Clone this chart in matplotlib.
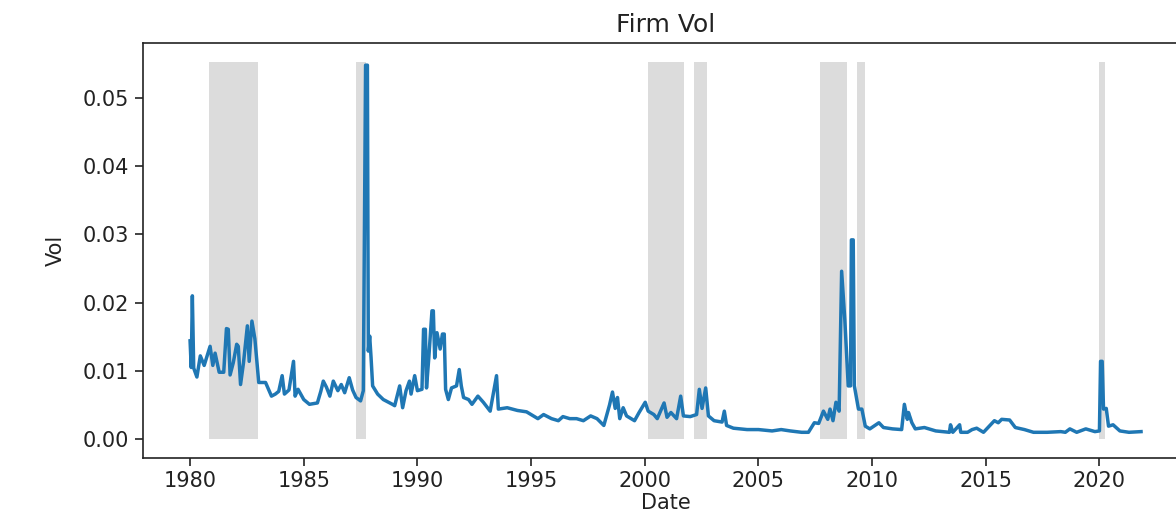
import matplotlib
matplotlib.use("Agg")
import matplotlib.pyplot as plt
from matplotlib.ticker import MultipleLocator, FormatStrFormatter

# Firm-level volatility (decimal year, value)
dates = [
    1980.00, 1980.05, 1980.10, 1980.16, 1980.30, 1980.45, 1980.62, 1980.88, 1981.00, 1981.10,
    1981.28, 1981.48, 1981.60, 1981.68, 1981.76, 1981.90, 1982.05, 1982.12, 1982.22, 1982.35,
    1982.52, 1982.60, 1982.72, 1982.85, 1983.02, 1983.32, 1983.50, 1983.58, 1983.75, 1983.90,
    1984.05, 1984.15, 1984.35, 1984.55, 1984.62, 1984.75, 1985.00, 1985.25, 1985.60, 1985.75,
    1985.86, 1986.00, 1986.15, 1986.30, 1986.50, 1986.65, 1986.80, 1987.00, 1987.15, 1987.30,
    1987.50, 1987.62, 1987.72, 1987.80, 1987.84, 1987.90, 1987.96, 1988.03, 1988.25, 1988.50,
    1988.90, 1989.00, 1989.22, 1989.35, 1989.50, 1989.65, 1989.72, 1989.88, 1990.00, 1990.20,
    1990.27, 1990.35, 1990.40, 1990.50, 1990.64, 1990.70, 1990.76, 1990.86, 1991.00, 1991.10,
    1991.18, 1991.24, 1991.36, 1991.50, 1991.72, 1991.84, 1991.93, 1992.03, 1992.25, 1992.40,
    1992.66, 1992.90, 1993.20, 1993.48, 1993.56, 1993.95, 1994.40, 1994.80, 1995.10, 1995.30,
    1995.55, 1995.90, 1996.20, 1996.40, 1996.70, 1997.00, 1997.30, 1997.62, 1997.90, 1998.20,
    1998.45, 1998.58, 1998.70, 1998.80, 1998.90, 1999.05, 1999.20, 1999.55, 1999.75, 2000.02,
    2000.15, 2000.40, 2000.55, 2000.85, 2000.98, 2001.15, 2001.40, 2001.58, 2001.70, 2002.00,
    2002.28, 2002.40, 2002.52, 2002.68, 2002.80, 2003.05, 2003.40, 2003.50, 2003.60, 2003.90,
    2004.50, 2005.00, 2005.60, 2006.00, 2006.40, 2006.90, 2007.20, 2007.46, 2007.65, 2007.86,
    2008.05, 2008.15, 2008.28, 2008.41, 2008.55, 2008.66, 2008.80, 2008.95, 2009.05, 2009.09,
    2009.17, 2009.22, 2009.40, 2009.55, 2009.70, 2009.90, 2010.30, 2010.50, 2010.90, 2011.30,
    2011.42, 2011.55, 2011.60, 2011.75, 2011.90, 2012.30, 2012.80, 2013.40, 2013.45, 2013.55,
    2013.85, 2013.90, 2014.20, 2014.40, 2014.60, 2014.90, 2015.38, 2015.55, 2015.70, 2016.05,
    2016.30, 2016.70, 2017.10, 2017.70, 2018.30, 2018.50, 2018.70, 2019.00, 2019.40, 2019.80,
    2020.00, 2020.05, 2020.12, 2020.18, 2020.30, 2020.40, 2020.60, 2020.90, 2021.30, 2021.83,
]
vol = [
    0.0144, 0.0105, 0.0210, 0.0104, 0.0091, 0.0122, 0.0108, 0.0136, 0.0108, 0.0126,
    0.0098, 0.0098, 0.0162, 0.0161, 0.0094, 0.0112, 0.0139, 0.0136, 0.0080, 0.0112,
    0.0166, 0.0114, 0.0173, 0.0147, 0.0083, 0.0083, 0.0069, 0.0063, 0.0066, 0.0070,
    0.0093, 0.0066, 0.0072, 0.0114, 0.0063, 0.0073, 0.0058, 0.0051, 0.0053, 0.0070,
    0.0085, 0.0076, 0.0063, 0.0085, 0.0071, 0.0080, 0.0068, 0.0090, 0.0072, 0.0061,
    0.0056, 0.0071, 0.0548, 0.0548, 0.0129, 0.0151, 0.0120, 0.0078, 0.0066, 0.0058,
    0.0051, 0.0049, 0.0078, 0.0046, 0.0071, 0.0085, 0.0066, 0.0093, 0.0071, 0.0073,
    0.0161, 0.0161, 0.0075, 0.0119, 0.0188, 0.0188, 0.0119, 0.0156, 0.0132, 0.0154,
    0.0154, 0.0073, 0.0058, 0.0075, 0.0078, 0.0102, 0.0078, 0.0061, 0.0058, 0.0051,
    0.0063, 0.0054, 0.0041, 0.0093, 0.0044, 0.0046, 0.0042, 0.0040, 0.0034, 0.0030,
    0.0036, 0.0030, 0.0027, 0.0033, 0.0030, 0.0030, 0.0027, 0.0034, 0.0030, 0.0020,
    0.0050, 0.0069, 0.0045, 0.0061, 0.0030, 0.0046, 0.0034, 0.0027, 0.0039, 0.0054,
    0.0041, 0.0036, 0.0030, 0.0053, 0.0032, 0.0039, 0.0030, 0.0063, 0.0034, 0.0033,
    0.0036, 0.0073, 0.0045, 0.0075, 0.0034, 0.0027, 0.0025, 0.0041, 0.0020, 0.0016,
    0.0014, 0.0014, 0.0012, 0.0014, 0.0012, 0.0010, 0.0010, 0.0024, 0.0023, 0.0041,
    0.0029, 0.0044, 0.0027, 0.0054, 0.0041, 0.0246, 0.0175, 0.0078, 0.0078, 0.0292,
    0.0292, 0.0078, 0.0044, 0.0044, 0.0019, 0.0015, 0.0024, 0.0017, 0.0015, 0.0014,
    0.0051, 0.0029, 0.0039, 0.0024, 0.0015, 0.0017, 0.0012, 0.0010, 0.0021, 0.0010,
    0.0021, 0.0010, 0.0010, 0.0014, 0.0016, 0.0010, 0.0027, 0.0024, 0.0029, 0.0028,
    0.0017, 0.0014, 0.0010, 0.0010, 0.0011, 0.0010, 0.0015, 0.0010, 0.0015, 0.0011,
    0.0012, 0.0114, 0.0114, 0.0044, 0.0045, 0.0019, 0.0021, 0.0012, 0.0010, 0.0011,
]

# Shaded periods (start, end) in decimal years
shade_start = [1980.84, 1987.29, 2000.16, 2002.15, 2007.71, 2009.32, 2020.00]
shade_end = [1982.97, 1987.76, 2001.71, 2002.72, 2008.90, 2009.69, 2020.26]
shade_top = 0.0553

fig = plt.figure(figsize=(11.76, 5.15), dpi=100)
ax = fig.add_axes([0.1212, 0.1107, 0.8895, 0.806])

for s, e in zip(shade_start, shade_end):
    ax.fill_between([s, e], 0, shade_top, color="#dcdcdc", linewidth=0)

ax.plot(dates, vol, color="#1f77b4", linewidth=2.5)

ax.xaxis.set_major_locator(MultipleLocator(5))
ax.xaxis.set_major_formatter(FormatStrFormatter("%d"))
ax.yaxis.set_major_locator(MultipleLocator(0.01))
ax.yaxis.set_major_formatter(FormatStrFormatter("%.2f"))

ax.tick_params(labelsize=15, length=6, width=1.2, colors="#222222")
for sp in ax.spines.values():
    sp.set_linewidth(1.2)
    sp.set_color("#222222")

ax.set_title("Firm Vol", fontsize=18, pad=8, color="#222222")
ax.set_xlabel("Date", fontsize=15, labelpad=1, color="#222222")
ax.set_ylabel("Vol", fontsize=15, labelpad=12, color="#222222")

fig.savefig("out.png", dpi=100)
